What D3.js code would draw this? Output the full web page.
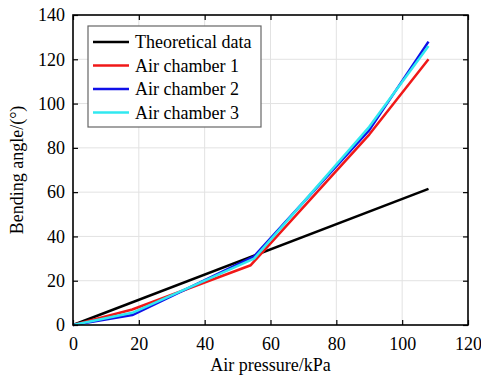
<!DOCTYPE html>
<html>
<head>
<meta charset="utf-8">
<script src="https://cdn.jsdelivr.net/npm/d3@7"></script>
<style>
  body { margin: 0; background: #fff; }
  svg text { font-family: "Liberation Serif", "Times New Roman", "DejaVu Serif", serif; }
</style>
</head>
<body>
<div id="chart"></div>
<script>
// Data
const xTicks = [0, 20, 40, 60, 80, 100, 120];
const yTicks = [0, 20, 40, 60, 80, 100, 120, 140];
const seriesNames = ['Theoretical data', 'Air chamber 1', 'Air chamber 2', 'Air chamber 3'];
const seriesColors = ['#000000', '#f01818', '#1010e8', '#30e8f0'];
const theoreticalPressure = [0, 108];
const theoreticalAngle = [0, 61.5];
const chamber1Pressure = [0, 18, 54, 90, 108];
const chamber1Angle = [0, 7, 27, 86, 120];
const chamber2Pressure = [0, 18, 55, 90, 108];
const chamber2Angle = [0, 4.5, 31, 88, 128];
const chamber3Pressure = [0, 18, 55, 90, 108];
const chamber3Angle = [0, 5.5, 30, 89.5, 126];

const width = 481;
const height = 379;
const margin = { top: 15, right: 13, bottom: 54, left: 73 };
const innerW = width - margin.left - margin.right;
const innerH = height - margin.top - margin.bottom;
const serif = '"Liberation Serif", "Times New Roman", serif';

const svg = d3.select('#chart')
  .append('svg')
  .attr('width', width)
  .attr('height', height)
  .attr('font-family', serif);

const x = d3.scaleLinear().domain([0, 120]).range([0, innerW]);
const y = d3.scaleLinear().domain([0, 140]).range([innerH, 0]);

const chart = svg.append('g')
  .attr('transform', `translate(${margin.left}, ${margin.top})`);

// Grid lines
chart.append('g')
  .selectAll('line')
  .data(xTicks.slice(1, -1))
  .join('line')
  .attr('x1', d => x(d)).attr('x2', d => x(d))
  .attr('y1', 0).attr('y2', innerH)
  .attr('stroke', '#e2e2e2').attr('stroke-width', 1);

chart.append('g')
  .selectAll('line')
  .data(yTicks.slice(1, -1))
  .join('line')
  .attr('x1', 0).attr('x2', innerW)
  .attr('y1', d => y(d)).attr('y2', d => y(d))
  .attr('stroke', '#e2e2e2').attr('stroke-width', 1);

// Series
const series = [
  { p: theoreticalPressure, a: theoreticalAngle },
  { p: chamber1Pressure, a: chamber1Angle },
  { p: chamber2Pressure, a: chamber2Angle },
  { p: chamber3Pressure, a: chamber3Angle }
];

const line = d3.line()
  .x(d => x(d[0]))
  .y(d => y(d[1]));

series.forEach((s, i) => {
  chart.append('path')
    .datum(s.p.map((v, j) => [v, s.a[j]]))
    .attr('fill', 'none')
    .attr('stroke', seriesColors[i])
    .attr('stroke-width', 2.5)
    .attr('stroke-linejoin', 'round')
    .attr('d', line);
});

// Axes (ticks pointing inward on all four sides)
const axisStyle = g => {
  g.attr('font-family', serif).attr('font-size', 18);
  g.select('.domain').remove();
  g.selectAll('.tick line').attr('stroke', '#000').attr('stroke-width', 1.2);
  g.selectAll('.tick text')
    .attr('fill', '#000')
    .style('font-family', serif)
    .style('font-size', '18px');
};

chart.append('g')
  .attr('transform', `translate(0, ${innerH})`)
  .call(d3.axisBottom(x).tickValues(xTicks).tickSizeInner(-5).tickSizeOuter(0).tickPadding(11))
  .call(axisStyle)
  .call(g => g.selectAll('.tick text').attr('dy', '0.75em'));

chart.append('g')
  .call(d3.axisTop(x).tickValues(xTicks).tickSizeInner(-5).tickSizeOuter(0).tickFormat(''))
  .call(axisStyle);

chart.append('g')
  .call(d3.axisLeft(y).tickValues(yTicks).tickSizeInner(-5).tickSizeOuter(0).tickPadding(8))
  .call(axisStyle);

chart.append('g')
  .attr('transform', `translate(${innerW}, 0)`)
  .call(d3.axisRight(y).tickValues(yTicks).tickSizeInner(-5).tickSizeOuter(0).tickFormat(''))
  .call(axisStyle);

// Frame
chart.append('rect')
  .attr('x', 0).attr('y', 0)
  .attr('width', innerW).attr('height', innerH)
  .attr('fill', 'none')
  .attr('stroke', '#000')
  .attr('stroke-width', 1.6);

// Axis titles
svg.append('text')
  .attr('x', margin.left + innerW / 2)
  .attr('y', 371)
  .attr('text-anchor', 'middle')
  .attr('font-size', '18px')
  .text('Air pressure/kPa');

svg.append('text')
  .attr('transform', `translate(23, ${margin.top + innerH / 2}) rotate(-90)`)
  .attr('text-anchor', 'middle')
  .attr('font-size', '18px')
  .text('Bending angle/(°)');

// Legend
const legend = svg.append('g').attr('transform', 'translate(88, 26)');
legend.append('rect')
  .attr('width', 173).attr('height', 101)
  .attr('fill', '#fff')
  .attr('stroke', '#666')
  .attr('stroke-width', 1.2);

seriesNames.forEach((name, i) => {
  const row = legend.append('g').attr('transform', `translate(0, ${16 + i * 23.5})`);
  row.append('line')
    .attr('x1', 5).attr('x2', 41)
    .attr('stroke', seriesColors[i])
    .attr('stroke-width', 2.5);
  row.append('text')
    .attr('x', 47)
    .attr('dy', '0.35em')
    .attr('font-size', '18px')
    .text(name);
});
</script>
</body>
</html>
